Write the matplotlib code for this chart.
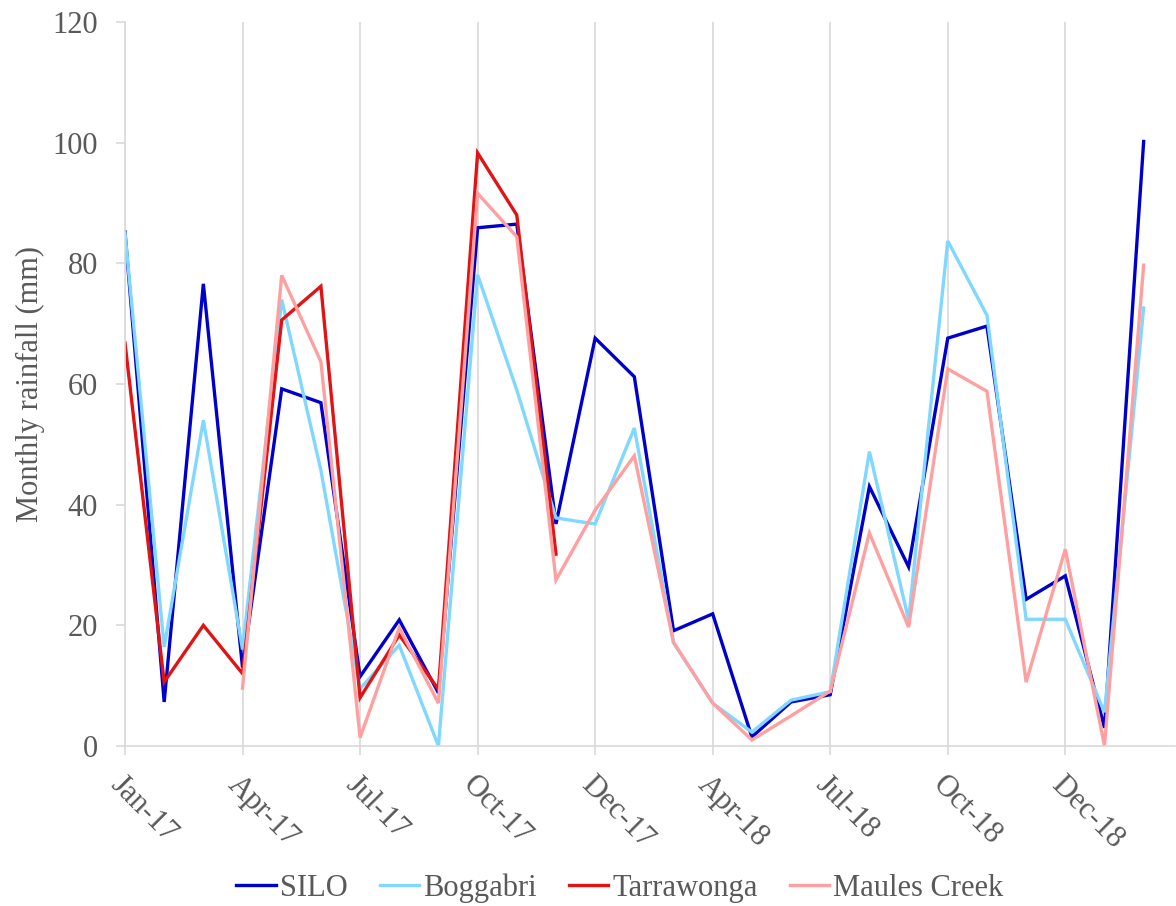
import numpy as np
import matplotlib
matplotlib.use("Agg")
import matplotlib.pyplot as plt

nan = np.nan

# monthly rainfall, Jan-17 .. Mar-19 (mm)
silo = [85.2, 7.3, 76.6, 13.0, 59.2, 56.9, 11.5, 20.9, 8.8, 85.9, 86.5, 36.8,
        67.6, 61.2, 19.1, 21.9, 1.5, 7.3, 8.5, 43.0, 29.7, 67.6, 69.6, 24.3,
        28.2, 3.0, 100.2]
boggabri = [85.0, 16.4, 54.0, 16.0, 74.0, 45.7, 9.5, 16.7, 0.0, 78.1, 59.0, 37.8,
            36.8, 52.7, 17.1, 7.1, 2.3, 7.6, 9.0, 48.8, 20.9, 83.7, 71.4, 21.0,
            21.0, 5.6, 72.6]
tarrawonga = [66.8, 10.6, 20.0, 12.0, 70.6, 76.2, 8.0, 18.4, 9.4, 98.3, 88.0, 31.8,
              nan, nan, nan, nan, nan, nan, nan, nan, nan, nan, nan, nan,
              nan, nan, nan]
maules_creek = [nan, nan, nan, 9.6, 78.0, 63.7, 1.4, 19.6, 7.1, 91.6, 84.4, 27.5,
                39.1, 48.1, 17.2, 7.1, 1.0, 5.0, 9.1, 35.3, 19.7, 62.5, 58.8, 10.6,
                32.6, 0.0, 79.7]

series_names = ["SILO", "Boggabri", "Tarrawonga", "Maules Creek"]
colors = ["#0000CC", "#80D8FF", "#E01414", "#FFA0A0"]

tick_pos = [0, 3, 6, 9, 12, 15, 18, 21, 24]
tick_labels = ["Jan-17", "Apr-17", "Jul-17", "Oct-17", "Dec-17",
               "Apr-18", "Jul-18", "Oct-18", "Dec-18"]

plt.rcParams["font.family"] = ["Liberation Serif", "DejaVu Serif"]
text_color = "#595959"
grid_color = "#D9D9D9"

fig = plt.figure(figsize=(11.76, 9.06), dpi=100)
ax = fig.add_axes([125 / 1176, 1 - 746 / 906, 1050 / 1176, 724 / 906])

x = np.arange(len(silo))
for data, name, c in zip([silo, boggabri, tarrawonga, maules_creek], series_names, colors):
    ax.plot(x, data, color=c, lw=2.4, label=name, solid_joinstyle="miter")

ax.set_xlim(0, 26.8)
ax.set_ylim(0, 120)
ax.set_yticks(np.arange(0, 121, 20))
ax.set_xticks(tick_pos)
ax.set_xticklabels(tick_labels, rotation=-45, ha="left", va="top",
                   rotation_mode="anchor")

ax.grid(axis="x", color=grid_color, lw=1.2)
ax.set_axisbelow(True)
for side in ["top", "right"]:
    ax.spines[side].set_visible(False)
for side in ["left", "bottom"]:
    ax.spines[side].set_color(grid_color)
    ax.spines[side].set_linewidth(1.2)

ax.tick_params(axis="both", colors=grid_color, length=6.5, width=1.2,
               labelcolor=text_color, labelsize=22)
ax.tick_params(axis="y", pad=13)
ax.tick_params(axis="x", pad=11)

ax.set_ylabel("Monthly rainfall (mm)", color=text_color, fontsize=22, labelpad=5)

fig.legend(loc="center", bbox_to_anchor=(0.527, 1 - 888 / 906), ncol=4, frameon=False,
           fontsize=22, labelcolor=text_color, handlelength=1.3,
           handletextpad=0.12, columnspacing=1.05, borderpad=0)

fig.savefig("out.png", dpi=100)
